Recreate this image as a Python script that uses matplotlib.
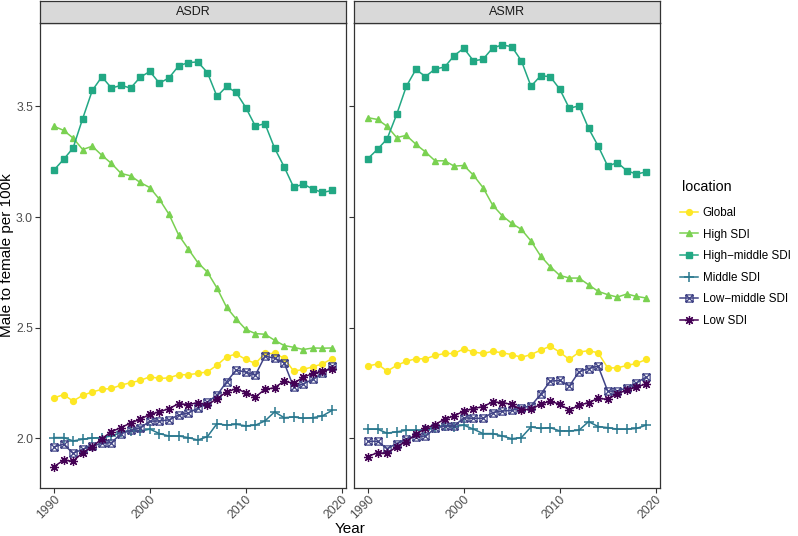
import matplotlib

matplotlib.use("Agg")

import matplotlib.pyplot as plt
import numpy as np
from matplotlib.lines import Line2D
from matplotlib.path import Path

plt.rcParams["font.family"] = ["Liberation Sans", "DejaVu Sans"]

YEARS = list(range(1990, 2020))
PANELS = ["ASDR", "ASMR"]
LOCATIONS = ["Global", "High SDI", "High−middle SDI", "Middle SDI", "Low−middle SDI", "Low SDI"]

# ASDR ratios
asdr_global = [2.182, 2.197, 2.168, 2.194, 2.209, 2.221, 2.225, 2.240, 2.251, 2.261,
               2.278, 2.270, 2.273, 2.287, 2.287, 2.293, 2.300, 2.330, 2.368, 2.381,
               2.356, 2.338, 2.383, 2.383, 2.362, 2.303, 2.311, 2.323, 2.336, 2.360]
asdr_high = [3.410, 3.392, 3.357, 3.305, 3.320, 3.279, 3.242, 3.197, 3.186, 3.156,
             3.133, 3.080, 3.012, 2.919, 2.856, 2.794, 2.751, 2.679, 2.592, 2.539,
             2.492, 2.473, 2.470, 2.443, 2.419, 2.411, 2.401, 2.408, 2.407, 2.408]
asdr_high_middle = [3.212, 3.260, 3.312, 3.445, 3.572, 3.634, 3.583, 3.595, 3.583, 3.632,
                    3.658, 3.605, 3.629, 3.683, 3.698, 3.701, 3.653, 3.545, 3.590, 3.563,
                    3.495, 3.411, 3.422, 3.312, 3.227, 3.134, 3.149, 3.126, 3.111, 3.120]
asdr_middle = [2.003, 2.003, 1.988, 1.995, 2.001, 2.003, 2.010, 2.026, 2.033, 2.032,
               2.041, 2.021, 2.010, 2.010, 2.003, 1.992, 2.007, 2.066, 2.059, 2.063,
               2.056, 2.059, 2.078, 2.119, 2.093, 2.096, 2.090, 2.093, 2.101, 2.126]
asdr_low_middle = [1.961, 1.973, 1.932, 1.950, 1.965, 1.977, 1.980, 2.021, 2.036, 2.047,
                   2.077, 2.078, 2.083, 2.105, 2.114, 2.135, 2.164, 2.194, 2.255, 2.308,
                   2.299, 2.285, 2.371, 2.362, 2.341, 2.231, 2.246, 2.266, 2.293, 2.326]
asdr_low = [1.871, 1.901, 1.896, 1.935, 1.961, 1.998, 2.030, 2.048, 2.069, 2.086,
            2.108, 2.119, 2.134, 2.156, 2.152, 2.161, 2.150, 2.179, 2.209, 2.224,
            2.206, 2.186, 2.221, 2.228, 2.258, 2.248, 2.276, 2.293, 2.303, 2.315]

# ASMR ratios
asmr_global = [2.326, 2.336, 2.303, 2.329, 2.348, 2.359, 2.359, 2.374, 2.383, 2.383,
               2.404, 2.390, 2.383, 2.393, 2.386, 2.378, 2.366, 2.378, 2.398, 2.416,
               2.389, 2.356, 2.389, 2.396, 2.386, 2.318, 2.318, 2.329, 2.338, 2.356]
asmr_high = [3.449, 3.441, 3.410, 3.359, 3.369, 3.329, 3.294, 3.254, 3.254, 3.230,
             3.233, 3.189, 3.133, 3.054, 3.006, 2.971, 2.944, 2.892, 2.824, 2.776,
             2.736, 2.724, 2.724, 2.694, 2.664, 2.649, 2.638, 2.652, 2.641, 2.634]
asmr_high_middle = [3.264, 3.306, 3.353, 3.464, 3.590, 3.667, 3.635, 3.669, 3.678, 3.730,
                    3.763, 3.706, 3.713, 3.764, 3.778, 3.770, 3.706, 3.591, 3.638, 3.635,
                    3.578, 3.491, 3.503, 3.401, 3.321, 3.230, 3.246, 3.209, 3.194, 3.204]
asmr_middle = [2.041, 2.041, 2.023, 2.029, 2.036, 2.036, 2.036, 2.048, 2.056, 2.053,
               2.059, 2.041, 2.021, 2.021, 2.010, 1.998, 2.003, 2.051, 2.044, 2.048,
               2.033, 2.033, 2.036, 2.075, 2.053, 2.048, 2.041, 2.041, 2.044, 2.059]
asmr_low_middle = [1.986, 1.986, 1.953, 1.976, 1.998, 2.007, 2.010, 2.044, 2.056, 2.056,
                   2.092, 2.090, 2.090, 2.116, 2.123, 2.126, 2.138, 2.146, 2.198, 2.258,
                   2.261, 2.236, 2.300, 2.315, 2.326, 2.213, 2.213, 2.228, 2.251, 2.276]
asmr_low = [1.917, 1.935, 1.931, 1.962, 1.985, 2.018, 2.044, 2.062, 2.086, 2.101,
            2.123, 2.134, 2.143, 2.164, 2.161, 2.153, 2.128, 2.131, 2.153, 2.168,
            2.153, 2.128, 2.149, 2.161, 2.180, 2.176, 2.201, 2.218, 2.231, 2.246]

SERIES = {
    "ASDR": [asdr_global, asdr_high, asdr_high_middle, asdr_middle, asdr_low_middle, asdr_low],
    "ASMR": [asmr_global, asmr_high, asmr_high_middle, asmr_middle, asmr_low_middle, asmr_low],
}

COLORS = ["#FDE725", "#7AD151", "#22A884", "#2A788E", "#414487", "#440154"]

# boxed x, like ggplot shape 7
BOX_X = Path(
    [(-1, -1), (1, -1), (1, 1), (-1, 1), (-1, -1), (-1, -1), (1, 1), (-1, 1), (1, -1)],
    [Path.MOVETO, Path.LINETO, Path.LINETO, Path.LINETO, Path.CLOSEPOLY,
     Path.MOVETO, Path.LINETO, Path.MOVETO, Path.LINETO],
)
MARKERS = [
    dict(marker="o", markersize=4.2),
    dict(marker="^", markersize=4.6),
    dict(marker="s", markersize=4.2),
    dict(marker="+", markersize=6.5, markeredgewidth=1.1),
    dict(marker=BOX_X, markersize=5.2, markerfacecolor="none", markeredgewidth=0.9),
    dict(marker=(8, 2, 0), markersize=6.5, markeredgewidth=0.9),
]

W, H = 798, 536
fig = plt.figure(figsize=(W / 100, H / 100), dpi=100)

panel_x = [(40, 346), (354, 660)]
top, strip_bottom, bottom = 1, 23, 488
edge = "#333333"

for i, name in enumerate(PANELS):
    x0, x1 = panel_x[i]
    ax = fig.add_axes([x0 / W, 1 - bottom / H, (x1 - x0) / W, (bottom - strip_bottom) / H])
    for values, color, mk in zip(SERIES[name], COLORS, MARKERS):
        ax.plot(YEARS, values, color=color, linewidth=1.1, **mk)

    ax.set_xlim(1988.55, 2020.45)
    ax.set_ylim(1.775, 3.877)
    ax.set_xticks([1990, 2000, 2010, 2020])
    ax.set_yticks([2.0, 2.5, 3.0, 3.5])
    ax.tick_params(axis="x", labelrotation=45, labelsize=8.8, colors=edge,
                   labelcolor="#4D4D4D", length=3.5, width=0.8, pad=0.5)
    ax.tick_params(axis="y", labelsize=8.8, colors=edge, labelcolor="#4D4D4D",
                   length=3.5, width=0.8, pad=1.5)
    for lab in ax.get_xticklabels():
        lab.set_ha("right")
        lab.set_rotation_mode("anchor")
    if i == 1:
        ax.set_yticklabels([])
    for spine in ax.spines.values():
        spine.set_color(edge)
        spine.set_linewidth(0.9)

    strip = fig.add_axes([x0 / W, 1 - strip_bottom / H, (x1 - x0) / W, (strip_bottom - top) / H])
    strip.set_facecolor("#D9D9D9")
    strip.set_xticks([])
    strip.set_yticks([])
    for spine in strip.spines.values():
        spine.set_color(edge)
        spine.set_linewidth(0.9)
    strip.text(0.5, 0.5, name, ha="center", va="center", fontsize=9, color="#1A1A1A",
               transform=strip.transAxes)

fig.text(350 / W, 1 - 529 / H, "Year", ha="center", va="center", fontsize=11)
fig.text(7 / W, 1 - 255 / H, "Male to female per 100k", ha="center", va="center",
         rotation=90, fontsize=11)

# legend title drawn separately so the gap under it matches the reference
fig.text(682 / W, 1 - 187 / H, "location", ha="left", va="center", fontsize=10.3)
handles = [Line2D([], [], color=c, linewidth=1.1, **mk) for c, mk in zip(COLORS, MARKERS)]
fig.legend(handles, LOCATIONS, loc="upper left", bbox_to_anchor=(680 / W, 1 - 207 / H),
           frameon=False, fontsize=8.4, handlelength=1.5, handletextpad=0.45,
           labelspacing=0.82, borderaxespad=0, borderpad=0)

fig.savefig("out.png", dpi=100)
